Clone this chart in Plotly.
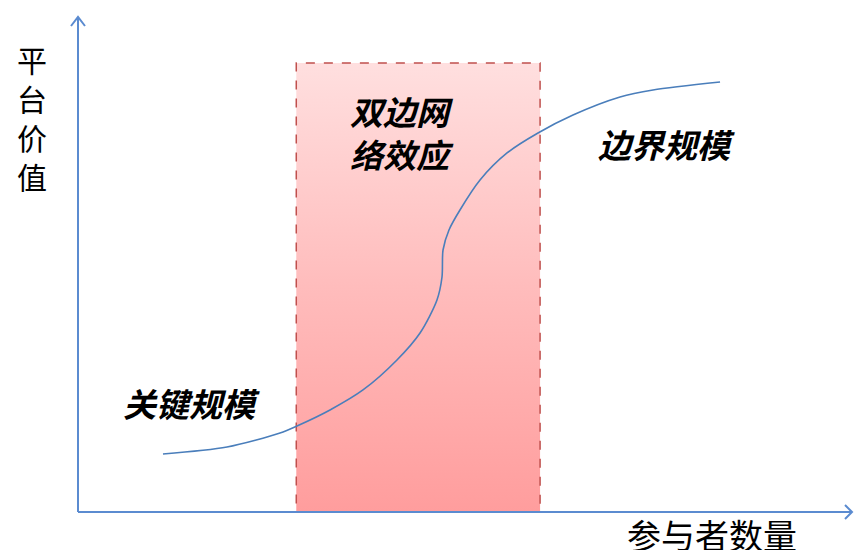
import plotly.graph_objects as go

# ---- data (conceptual S-curve: participants vs platform value) ----
curve_x = [10.98, 19.25, 26.10, 28.29, 32.56, 36.82, 41.21, 44.19, 46.38, 47.03,
           47.16, 47.93, 49.35, 51.94, 55.43, 59.43, 63.95, 70.03, 74.29, 82.95]
curve_y = [11.72, 13.13, 15.96, 17.37, 20.61, 24.65, 30.71, 36.16, 42.83, 47.47,
           52.93, 56.97, 61.01, 67.07, 72.53, 76.57, 80.20, 83.84, 85.25, 86.87]

zone_x = [28.2, 59.7]          # two-sided network effect zone
zone_y = [0.0, 90.7]

x_title = "参与者数量"
y_title = "平台价值"
zone_label = "双边网<br>络效应"
upper_label = "边界规模"
lower_label = "关键规模"

W, H = 854, 550
L, R, T, B = 78, 2, 17, 38
PW, PH = W - L - R, H - T - B

def px(x):   # pixel x -> paper
    return (x - L) / PW

def py(y):   # pixel y -> paper
    return (H - B - y) / PH

fig = go.Figure()

# gradient zone
fig.add_trace(go.Scatter(
    x=[zone_x[0], zone_x[1], zone_x[1], zone_x[0], zone_x[0]],
    y=[zone_y[0], zone_y[0], zone_y[1], zone_y[1], zone_y[0]],
    mode="lines", fill="toself",
    fillgradient=dict(type="vertical",
                      colorscale=[[0, "#ff9d9d"], [0.5, "#ffbcbc"], [1, "#ffdfdf"]]),
    line=dict(color="#c0504d", width=1.5, dash="dash"),
    hoverinfo="skip", showlegend=False, cliponaxis=False,
))

# S-curve
fig.add_trace(go.Scatter(
    x=curve_x, y=curve_y, mode="lines",
    line=dict(color="#4a7ebb", width=1.6, shape="spline", smoothing=0.8),
    hoverinfo="skip", showlegend=False,
))

axis_col = "#5b8bd0"
shapes = [
    dict(type="line", xref="paper", yref="paper", x0=0, y0=0, x1=0, y1=1,
         line=dict(color=axis_col, width=2)),
    dict(type="line", xref="paper", yref="paper", x0=0, y0=0, x1=1, y1=0,
         line=dict(color=axis_col, width=2)),
    # arrowheads
    dict(type="path", xref="paper", yref="paper",
         path=f"M {px(71)} {py(26)} L {px(78)} {py(17)} L {px(85)} {py(26)}",
         line=dict(color=axis_col, width=2)),
    dict(type="path", xref="paper", yref="paper",
         path=f"M {px(845)} {py(505)} L {px(852)} {py(512)} L {px(845)} {py(519)}",
         line=dict(color=axis_col, width=2)),
]

ann = []
cjk = "Noto Sans CJK SC"
# vertical y title, one char per line
ann.append(dict(text="<br>".join(y_title), xref="paper", yref="paper",
                x=px(32), y=py(118), showarrow=False,
                font=dict(family=cjk, size=30, color="#000"),
                xanchor="center", yanchor="middle"))
ann.append(dict(text=x_title, xref="paper", yref="paper", x=px(712), y=py(508),
                showarrow=False, font=dict(family=cjk, size=34, color="#000"),
                xanchor="center", yanchor="top"))
for txt, xc, yc in [(zone_label, 402, 133), (upper_label, 666, 144), (lower_label, 191, 403)]:
    ann.append(dict(text=f"<b><i>{txt}</i></b>", xref="paper", yref="paper",
                    x=px(xc), y=py(yc), showarrow=False,
                    font=dict(family=cjk, size=33, color="#000"),
                    xanchor="center", yanchor="middle"))

fig.update_layout(
    width=W, height=H,
    margin=dict(l=L, r=R, t=T, b=B),
    paper_bgcolor="white", plot_bgcolor="white",
    xaxis=dict(range=[0, 100], visible=False, fixedrange=True),
    yaxis=dict(range=[0, 100], visible=False, fixedrange=True),
    shapes=shapes, annotations=ann, showlegend=False,
)

fig.write_html("out.html")
